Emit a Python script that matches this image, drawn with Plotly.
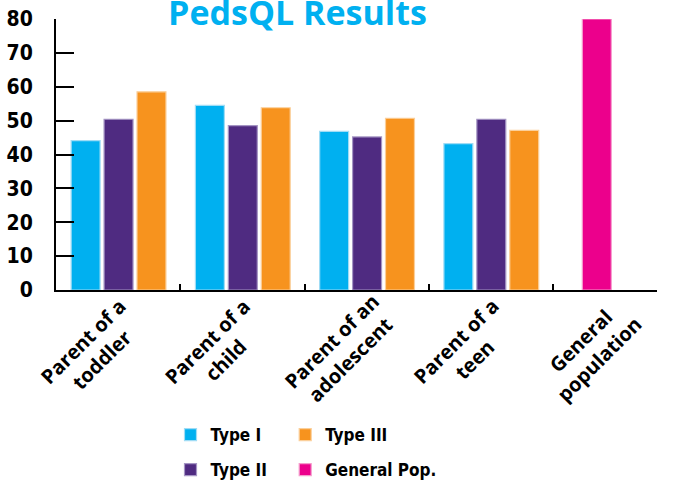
import plotly.graph_objects as go

categories = ["Parent of a toddler", "Parent of a child", "Parent of an adolescent",
              "Parent of a teen", "General population"]
tick_labels = ["Parent of a<br>toddler", "Parent of a<br>child", "Parent of an<br>adolescent",
               "Parent of a<br>teen", "General<br>population"]
type1 = [44.1, 54.5, 46.8, 43.2, None]
type2 = [50.4, 48.5, 45.2, 50.4, None]
type3 = [58.5, 53.8, 50.7, 47.1, None]
general_pop = [None, None, None, None, 80]
y_ticks = [0, 10, 20, 30, 40, 50, 60, 70, 80]

W = 681
H = 483
BAR_W = 0.233

fig = go.Figure()
series = [
    ("Type I", type1, "#00b0f0", "#9fdcf5", -0.378, "legend", "g1"),
    ("Type II", type2, "#4f2b81", "#a595c4", -0.113, "legend", "g2"),
    ("Type III", type3, "#f7931e", "#fbcf9a", 0.152, "legend2", "g3"),
    ("General Pop.", general_pop, "#ec008c", "#f59ccc", -0.264, "legend2", "g4"),
]
for name, vals, col, lcol, off, leg, grp in series:
    fig.add_trace(go.Bar(
        x=categories, y=vals, name=name, width=BAR_W, offset=off,
        marker=dict(color=col, line=dict(color=lcol, width=1.2)),
        legend=leg, legendgroup=grp,
    ))

narrow = dict(family="DejaVu Sans Condensed, DejaVu Sans, sans-serif", weight="bold", color="black")

legend_common = dict(xref="container", yref="container", y=1 - 417 / H,
                     xanchor="left", yanchor="top", orientation="v", tracegroupgap=10,
                     font=dict(size=17, **narrow), bgcolor="rgba(0,0,0,0)")

fig.update_layout(
    width=W, height=H,
    barmode="overlay",
    plot_bgcolor="white", paper_bgcolor="white",
    margin=dict(l=56, r=24, t=19, b=193, autoexpand=False),
    title=dict(text="<b>PedsQL Results</b>", x=297.5 / W, xanchor="center",
               xref="container", yref="container", y=1 - 13.5 / H, yanchor="middle",
               font=dict(family="Open Sans, sans-serif", size=34, color="#00b0f0"),
               pad=dict(t=0, b=0)),
    legend=dict(x=170.5 / W, **legend_common),
    legend2=dict(x=(170.5 + 114.7) / W, **legend_common),
    xaxis=dict(type="category", categoryorder="array", categoryarray=categories,
               range=[-0.5, 4.337], showline=True, linecolor="black", linewidth=2,
               ticks="inside", tickson="boundaries", ticklen=6, tickwidth=1.5,
               tickcolor="black", showticklabels=False, showgrid=False, zeroline=False),
    yaxis=dict(range=[0, 80], tickvals=y_ticks, showline=True, linecolor="black",
               linewidth=2, ticks="inside", ticklen=18, tickwidth=2, tickcolor="black",
               showgrid=False, zeroline=False, ticklabelstandoff=17,
               ticklabeloverflow="allow",
               tickfont=dict(size=21, **narrow)),
)

for cat, lab in zip(categories, tick_labels):
    fig.add_annotation(
        x=cat, y=0, xref="x", yref="y", text="<b>" + lab + "</b>",
        showarrow=False, textangle=-45, align="center",
        xanchor="center", yanchor="middle", xshift=-26, yshift=-60,
        font=dict(family="Open Sans, sans-serif", size=20, color="black"),
    )

fig.write_html("out.html", config={"displayModeBar": False},
               post_script="document.body.style.margin='0';")
